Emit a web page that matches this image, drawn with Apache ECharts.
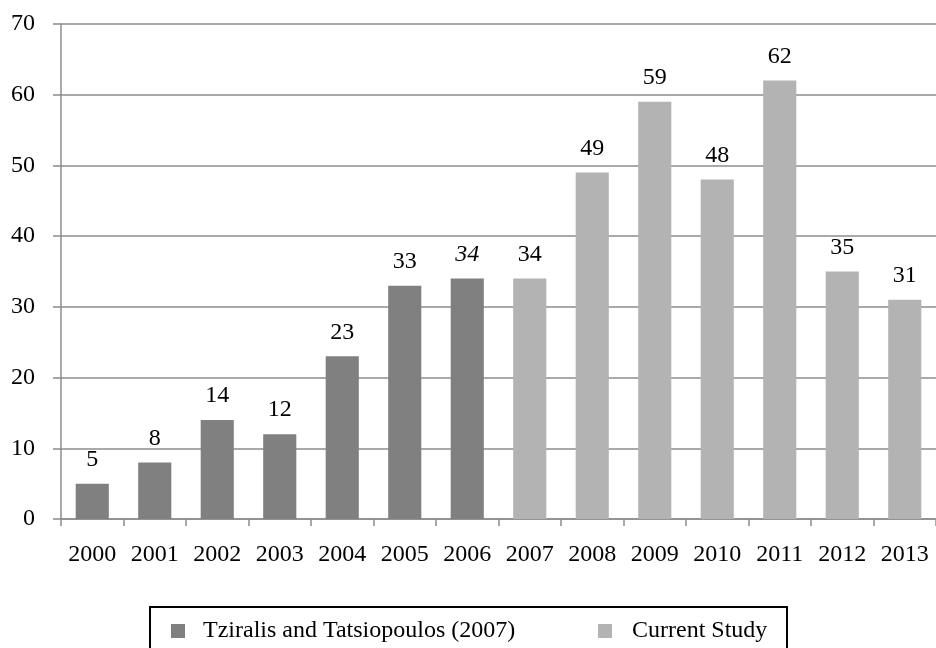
<!DOCTYPE html>
<html>
<head>
<meta charset="utf-8">
<script src="https://cdn.jsdelivr.net/npm/echarts@6/dist/echarts.min.js"></script>
<style>html,body{margin:0;padding:0;background:#fff;}#c{width:936px;height:648px;}</style>
</head>
<body>
<div id="c"></div>
<script>
const years = ['2000','2001','2002','2003','2004','2005','2006','2007','2008','2009','2010','2011','2012','2013'];
const tziralis = [5, 8, 14, 12, 23, 33, 34, null, null, null, null, null, null, null];
const current = [null, null, null, null, null, null, null, 34, 49, 59, 48, 62, 35, 31];
const seriesNames = ['Tziralis and Tatsiopoulos (2007)', 'Current Study'];
const italicLabelYear = '2006';

const font = "'Liberation Serif', 'Times New Roman', serif";
const axisGray = '#8c8c8c';
const fs = 24;

function toData(arr) {
  return arr.map((v, i) => {
    if (v === null) return null;
    if (years[i] === italicLabelYear) {
      return { value: v, label: { fontStyle: 'italic' } };
    }
    return v;
  });
}

const chart = echarts.init(document.getElementById('c'));
chart.setOption({
  animation: false,
  backgroundColor: '#fff',
  textStyle: { fontFamily: font },
  grid: { left: 61, right: 0, top: 24, bottom: 129, containLabel: false },
  legend: [
    {
      data: [seriesNames[0]], left: 166, top: 614, itemWidth: 14, itemHeight: 14, icon: 'rect',
      textStyle: { fontFamily: font, fontSize: fs, color: '#000', padding: [0, 0, 0, 13] }
    },
    {
      data: [seriesNames[1]], left: 593, top: 614, itemWidth: 14, itemHeight: 14, icon: 'rect',
      textStyle: { fontFamily: font, fontSize: fs, color: '#000', padding: [0, 0, 0, 15] }
    }
  ],
  graphic: [{
    type: 'rect', silent: true,
    shape: { x: 150, y: 607, width: 637, height: 60 },
    style: { fill: 'none', stroke: '#000', lineWidth: 2 }
  }],
  xAxis: {
    type: 'category', data: years, boundaryGap: true,
    axisLine: { lineStyle: { color: axisGray, width: 1.5 } },
    axisTick: { show: true, interval: 0, length: 7, lineStyle: { color: axisGray, width: 1.5 } },
    axisLabel: { interval: 0, fontFamily: font, fontSize: fs, color: '#000', margin: 24 }
  },
  yAxis: {
    type: 'value', min: 0, max: 70, interval: 10,
    axisLine: { show: true, lineStyle: { color: axisGray, width: 1.5 } },
    axisTick: { show: true, length: 8, lineStyle: { color: axisGray, width: 1.5 } },
    axisLabel: { fontFamily: font, fontSize: fs, color: '#000', margin: 26 },
    splitLine: { lineStyle: { color: axisGray, width: 1.5 } }
  },
  series: [
    {
      name: seriesNames[0], type: 'bar', stack: 's', data: toData(tziralis),
      barCategoryGap: '47%',
      itemStyle: { color: '#808080' },
      label: { show: true, position: 'top', distance: 12, fontFamily: font, fontSize: fs, color: '#000' }
    },
    {
      name: seriesNames[1], type: 'bar', stack: 's', data: toData(current),
      barCategoryGap: '47%',
      itemStyle: { color: '#b3b3b3' },
      label: { show: true, position: 'top', distance: 12, fontFamily: font, fontSize: fs, color: '#000' }
    }
  ]
});
</script>
</body>
</html>
